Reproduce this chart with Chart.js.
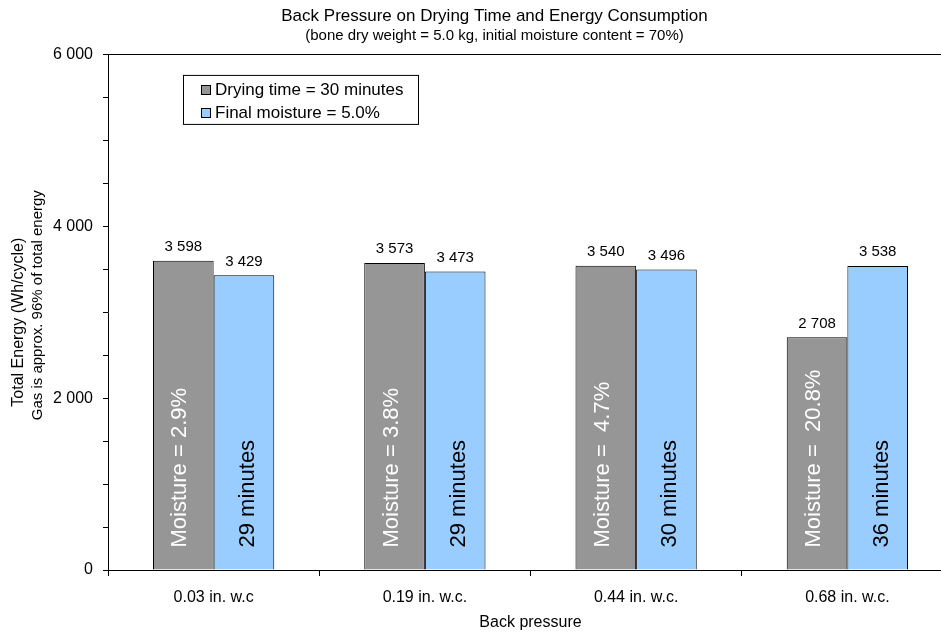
<!DOCTYPE html>
<html><head><meta charset="utf-8">
<script src="https://cdn.jsdelivr.net/npm/chart.js@4.4.1/dist/chart.umd.min.js"></script>
<style>
html,body{margin:0;padding:0;background:#fff;overflow:hidden;width:941px;height:632px}
#wrap{width:953px;height:632px}
</style></head><body>
<div id="wrap"><canvas id="c" width="953" height="632"></canvas></div>
<script>
const categories = ['0.03 in. w.c', '0.19 in. w.c.', '0.44 in. w.c.', '0.68 in. w.c.'];
const dryingTimeSeries = [3598, 3573, 3540, 2708];
const finalMoistureSeries = [3429, 3473, 3496, 3538];
const dryingTimeNotes = ['Moisture = 2.9%', 'Moisture = 3.8%', 'Moisture =  4.7%', 'Moisture =  20.8%'];
const finalMoistureNotes = ['29 minutes', '29 minutes', '30 minutes', '36 minutes'];
const seriesNames = ['Drying time = 30 minutes', 'Final moisture = 5.0%'];
const yLabelledTicks = [0, 2000, 4000, 6000];

const FONT = '"Liberation Sans", Arial, sans-serif';
Chart.defaults.font.family = FONT;
Chart.defaults.color = '#000';

const fmt = v => String(v).replace(/\B(?=(\d{3})+(?!\d))/g, ' ');

const annot = {
  id: 'annot',
  afterDatasetsDraw(chart) {
    const ctx = chart.ctx;
    const notes = [dryingTimeNotes, finalMoistureNotes];
    const noteColors = ['#ffffff', '#000000'];
    const noteShift = [3, 10];
    chart.data.datasets.forEach((ds, i) => {
      const meta = chart.getDatasetMeta(i);
      meta.data.forEach((bar, j) => {
        ctx.save();
        ctx.font = '15px ' + FONT;
        ctx.fillStyle = '#000';
        ctx.textAlign = 'center';
        ctx.textBaseline = 'alphabetic';
        ctx.fillText(fmt(ds.data[j]), bar.x, bar.y - 9.5);
        ctx.translate(bar.x + noteShift[i], bar.base - 22);
        ctx.rotate(-Math.PI / 2);
        ctx.font = '22px ' + FONT;
        ctx.fillStyle = noteColors[i];
        ctx.textAlign = 'left';
        ctx.fillText(notes[i][j], 0, 0);
        ctx.restore();
      });
    });
    const ca = chart.chartArea;
    const cy = (ca.top + ca.bottom) / 2;
    ctx.save();
    ctx.fillStyle = '#000';
    ctx.textAlign = 'center';
    ctx.textBaseline = 'middle';
    ctx.translate(19, cy + 10);
    ctx.rotate(-Math.PI / 2);
    ctx.font = '16px ' + FONT;
    ctx.fillText('Total Energy (Wh/cycle)', 0, 0);
    ctx.restore();
    ctx.save();
    ctx.fillStyle = '#000';
    ctx.textAlign = 'center';
    ctx.textBaseline = 'middle';
    ctx.translate(38, cy - 7);
    ctx.rotate(-Math.PI / 2);
    ctx.font = '15px ' + FONT;
    ctx.fillText('Gas is approx. 96% of total energy', 0, 0);
    ctx.restore();
    // legend box
    const lx = ca.left + 75.5, ly = ca.top + 21;
    ctx.save();
    ctx.fillStyle = '#fff';
    ctx.fillRect(lx, ly, 235, 49);
    ctx.strokeStyle = '#000';
    ctx.lineWidth = 1;
    ctx.strokeRect(lx, ly, 235, 49);
    chart.data.datasets.forEach((ds, i) => {
      const yc = ly + 14.5 + i * 23;
      ctx.fillStyle = ds.backgroundColor;
      ctx.fillRect(lx + 18, Math.round(yc) - 4.5, 9, 9);
      ctx.strokeRect(lx + 18, Math.round(yc) - 4.5, 9, 9);
      ctx.fillStyle = '#000';
      ctx.font = '17px ' + FONT;
      ctx.textAlign = 'left';
      ctx.textBaseline = 'middle';
      ctx.fillText(ds.label, lx + 31.5, yc);
    });
    ctx.restore();
  }
};

new Chart(document.getElementById('c'), {
  type: 'bar',
  data: {
    labels: categories,
    datasets: [
      { label: seriesNames[0], data: dryingTimeSeries, backgroundColor: '#969696', borderColor: '#000', borderWidth: 1 },
      { label: seriesNames[1], data: finalMoistureSeries, backgroundColor: '#99CCFF', borderColor: '#000', borderWidth: 1 }
    ]
  },
  options: {
    responsive: false,
    animation: false,
    devicePixelRatio: 1,
    layout: { padding: { left: 36, right: 0, top: 0, bottom: 0 } },
    datasets: { bar: { categoryPercentage: 0.574, barPercentage: 1.0 } },
    plugins: {
      legend: { display: false },
      tooltip: { enabled: false },
      title: {
        display: true,
        text: 'Back Pressure on Drying Time and Energy Consumption',
        font: { size: 17, weight: 'normal' },
        color: '#000',
        padding: { top: 6, bottom: 0 }
      },
      subtitle: {
        display: true,
        text: '(bone dry weight = 5.0 kg, initial moisture content = 70%)',
        font: { size: 15, weight: 'normal' },
        color: '#000',
        padding: { top: 0, bottom: 10 }
      }
    },
    scales: {
      x: {
        afterFit: s => { s.height = 62; },
        grid: { offset: true, drawOnChartArea: false, tickLength: 6, tickColor: '#000' },
        border: { color: '#000', width: 1 },
        ticks: { font: { size: 16 }, color: '#000', padding: 12, maxRotation: 0, autoSkip: false },
        title: { display: true, text: 'Back pressure', font: { size: 16 }, color: '#000', padding: { top: 4, bottom: 0 } }
      },
      y: {
        min: 0, max: 6000,
        afterFit: s => { s.width = 72; },
        grid: {
          color: c => (c.tick && c.tick.value === 6000) ? '#000' : 'rgba(0,0,0,0)',
          tickColor: '#000', tickLength: 5, drawOnChartArea: true
        },
        border: { color: '#000', width: 1 },
        ticks: {
          stepSize: 500, autoSkip: false, padding: 10, font: { size: 16 }, color: '#000',
          callback: v => yLabelledTicks.includes(v) ? fmt(v) : ''
        }
      }
    }
  },
  plugins: [annot]
});
</script>
</body></html>
